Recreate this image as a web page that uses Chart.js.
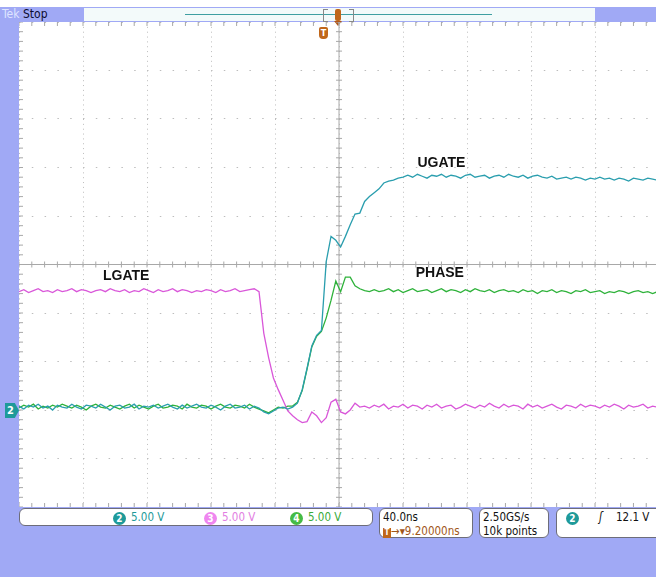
<!DOCTYPE html>
<html>
<head>
<meta charset="utf-8">
<script src="https://cdn.jsdelivr.net/npm/chart.js@4.4.1/dist/chart.umd.min.js"></script>
<style>
  body { margin: 0; width: 656px; height: 577px; background: #fff; overflow: hidden; position: relative; font-family: "DejaVu Sans Condensed", "DejaVu Sans", sans-serif; }
  .blue { position: absolute; background: #a0a9f5; }
  .abs { position: absolute; }
  .box { position: absolute; background: #fff; border: 1px solid #6d6d7a; border-radius: 6px; box-sizing: border-box; font-size: 11.5px; color: #111; }
  .chip { display: inline-block; width: 13px; height: 13px; border-radius: 7px; color: #fff; font-size: 10px; line-height: 13px; text-align: center; font-weight: bold; }
  #wrap { position: absolute; left: 19px; top: 22px; width: 637px; height: 485px; }
</style>
</head>
<body>
<div class="blue" style="left:0;top:7px;width:656px;height:15px;"></div>
<div class="blue" style="left:0;top:7px;width:19px;height:570px;"></div>
<div class="blue" style="left:0;top:507px;width:656px;height:70px;"></div>

<div class="abs" style="left:2px;top:7px;font-size:12px;color:#dfe4ff;">Tek</div>
<div class="abs" style="left:23px;top:7px;font-size:12px;color:#0c0c30;">Stop</div>
<div class="abs" style="left:84px;top:8px;width:511px;height:13px;background:#f3fafa;"></div>
<div class="abs" style="left:185px;top:14px;width:307px;height:1px;background:#3f9fa2;"></div>
<div class="abs" style="left:323px;top:9px;width:4px;height:11px;border:1px solid #888;border-right:none;"></div>
<div class="abs" style="left:349px;top:9px;width:4px;height:11px;border:1px solid #888;border-left:none;"></div>
<div class="abs" style="left:335px;top:9px;width:6px;height:12px;background:#c0661a;border-radius:2px;"></div>
<div class="abs" style="left:334px;top:21px;width:0;height:0;border-left:4px solid transparent;border-right:4px solid transparent;border-top:5px solid #b0561a;"></div>
<div class="abs" style="left:319px;top:27px;width:9px;height:12px;background:#c0661a;border-radius:2px 2px 4px 4px;color:#fff;font-size:9px;font-weight:bold;text-align:center;line-height:12px;">T</div>

<div class="abs" style="left:5px;top:403px;width:14px;height:15px;background:#1e9a9a;clip-path:polygon(0 0,70% 0,100% 50%,70% 100%,0 100%);color:#fff;font-size:11px;font-weight:bold;line-height:15px;padding-left:2px;box-sizing:border-box;">2</div>

<div id="wrap"><canvas id="scopeChart"></canvas></div>

<div class="box" style="left:19px;top:508px;width:354px;height:18px;">
  <span class="abs" style="left:93px;top:2px;"><span class="chip" style="background:#1e9a9a;">2</span></span>
  <span class="abs" style="left:111px;top:1px;color:#1e9a9a;">5.00 V</span>
  <span class="abs" style="left:184px;top:2px;"><span class="chip" style="background:#ef86ef;">3</span></span>
  <span class="abs" style="left:202px;top:1px;color:#e27ee2;">5.00 V</span>
  <span class="abs" style="left:270px;top:2px;"><span class="chip" style="background:#45bb45;">4</span></span>
  <span class="abs" style="left:288px;top:1px;color:#3aaa3a;">5.00 V</span>
</div>
<div class="box" style="left:379px;top:508px;width:94px;height:30px;">
  <span class="abs" style="left:3px;top:1px;">40.0ns</span>
  <span class="abs" style="left:3px;top:15px;color:#a0561a;"><span style="display:inline-block;width:8px;height:10px;background:#c0661a;color:#fff;font-size:8px;text-align:center;line-height:10px;font-weight:bold;">T</span>→▾9.20000ns</span>
</div>
<div class="box" style="left:479px;top:508px;width:70px;height:30px;">
  <span class="abs" style="left:3px;top:1px;">2.50GS/s</span>
  <span class="abs" style="left:3px;top:15px;">10k points</span>
</div>
<div class="box" style="left:556px;top:508px;width:110px;height:30px;">
  <span class="abs" style="left:9px;top:2px;"><span class="chip" style="background:#1e9a9a;">2</span></span>
  <span class="abs" style="left:42px;top:1px;font-style:italic;">ʃ</span>
  <span class="abs" style="left:59px;top:1px;">12.1 V</span>
</div>

<script>
// sample times (ns) and channel voltages (V); ch2 / ch3 / ch4 ground at -3 div
const timeNs = [
  -200,-197,-194,-191,-188,-185,-182,-179,-176,-173,-170,-167,-164,-161,-158,-155,-152,-149,-146,-143,
  -140,-137,-134,-131,-128,-125,-122,-119,-116,-113,-110,-107,-104,-101,-98,-95,-92,-89,-86,-83,
  -80,-77,-74,-71,-68,-65,-62,-59,-56,-53,-50,-47,-44,-41,-38,-35,-32,-29,-26,-23,
  -20,-17,-14,-11,-8,-5,-2,1,4,7,10,13,16,19,22,25,28,31,34,37,
  40,43,46,49,52,55,58,61,64,67,70,73,76,79,82,85,88,91,94,97,
  100,103,106,109,112,115,118,121,124,127,130,133,136,139,142,145,148,151,154,157,
  160,163,166,169,172,175,178,181,184,187,190,193,196,199
];

const ugateV = [
  0.4,0.1,0.5,0.3,0.6,0.2,0.4,0.0,0.5,0.3,
  0.2,0.6,0.3,0.1,0.5,0.4,0.2,0.6,0.3,0.0,
  0.4,0.5,0.2,0.3,0.6,0.1,0.4,0.3,0.5,0.2,
  0.4,0.6,0.3,0.1,0.5,0.2,0.4,0.6,0.3,0.2,
  0.5,0.3,0.0,0.4,0.6,0.2,0.3,0.5,0.1,0.4,
  0.2,-0.2,-0.4,-0.1,0.2,0.3,0.1,
  0.3,0.7,2.1,4.3,6.6,7.7,8.2,15.3,17.9,17.5,16.8,17.9,19.1,20.2,20.3,21.5,22.0,22.4,22.8,23.4,23.6,23.7,23.9,24.0,
  24.2,24.0,24.3,24.1,23.9,24.2,24.1,24.3,24.0,24.2,
  24.1,23.9,24.2,24.3,24.0,24.1,24.2,23.9,24.1,24.2,
  24.0,24.3,24.1,24.0,24.2,23.9,24.1,24.2,
  24.0,23.9,24.1,23.8,23.9,24.0,23.8,24.0,23.9,23.7,
  23.9,23.8,24.0,23.8,23.9,23.7,23.9,23.8,23.6,23.9,
  23.8,23.7,23.9,23.8,23.7
];

const lgateV = [
  12.2,12.4,12.1,12.3,12.5,12.2,12.3,12.1,12.4,12.2,
  12.3,12.5,12.2,12.4,12.3,12.1,12.3,12.4,12.2,12.5,
  12.3,12.2,12.4,12.1,12.3,12.2,12.5,12.3,12.1,12.4,
  12.2,12.3,12.5,12.2,12.4,12.3,12.1,12.3,12.2,12.4,
  12.3,12.1,12.4,12.2,12.3,12.5,12.2,12.3,12.4,12.5,
  12.2,7.9,5.4,3.3,2.1,1.0,-0.1,-0.6,-1.0,-1.3,-1.2,-0.2,-0.6,-1.3,-0.8,0.8,1.1,-0.2,-0.4,0.0,0.7,0.3,0.4,
  0.2,0.5,0.3,0.6,0.1,0.4,0.3,0.6,0.2,0.5,
  0.4,0.1,0.5,0.3,0.6,0.2,0.4,0.5,0.1,0.3,
  0.6,0.4,0.2,0.5,0.3,0.7,0.4,0.2,0.6,0.3,
  0.5,0.4,0.1,0.6,0.3,0.5,0.2,0.4,0.6,0.3,
  0.1,0.5,0.4,0.2,0.6,0.3,0.5,0.4,0.2,0.5,
  0.3,0.6,0.4,0.1,0.5,0.3,0.4,0.6,0.2,0.4,0.3
];

const phaseV = [
  0.2,0.5,0.3,0.6,0.1,0.4,0.2,0.5,0.3,0.6,
  0.4,0.2,0.5,0.3,0.0,0.4,0.6,0.3,0.2,0.5,
  0.3,0.1,0.4,0.6,0.2,0.5,0.3,0.1,0.4,0.6,
  0.2,0.3,0.5,0.4,0.1,0.6,0.3,0.2,0.5,0.4,
  0.1,0.4,0.6,0.3,0.2,0.5,0.4,0.2,0.6,0.3,
  0.1,-0.1,-0.3,0.0,0.3,0.2,0.4,
  0.4,0.8,2.0,4.2,6.5,7.6,8.1,9.5,11.3,13.3,12.2,13.7,13.7,12.8,12.5,12.3,12.2,
  12.4,12.2,12.3,12.5,12.2,12.4,12.1,12.3,12.5,12.2,
  12.3,12.4,12.1,12.3,12.5,12.2,12.4,12.3,12.1,12.4,
  12.2,12.5,12.3,12.2,12.4,12.1,12.3,12.4,12.2,12.3,
  12.1,12.4,12.2,12.3,12.0,12.3,12.2,12.4,12.1,12.3,
  12.2,12.0,12.3,12.2,12.4,12.1,12.2,12.3,12.0,12.2,
  12.1,12.3,12.2,12.0,12.2,12.3,12.1,12.2,12.0,12.2
];

// trace names placed on the screen (time ns, volts)
const traceLabels = [
  { text: 'UGATE', t: 64, v: 25.5 },
  { text: 'LGATE', t: -133, v: 13.8 },
  { text: 'PHASE', t: 63, v: 14.1 }
];

function toPoints(values) {
  return values.map((v, i) => ({ x: timeNs[i], y: v }));
}

const scopeDecor = {
  id: 'scopeDecor',
  beforeDatasetsDraw(chart) {
    const { ctx, chartArea: a, scales: { x, y } } = chart;
    const cx = x.getPixelForValue(0);
    const cy = y.getPixelForValue(15);
    ctx.save();
    ctx.strokeStyle = '#a8a8a8';
    ctx.lineWidth = 1;
    ctx.beginPath();
    ctx.moveTo(a.left, cy); ctx.lineTo(a.right, cy);
    ctx.moveTo(cx, a.top); ctx.lineTo(cx, a.bottom);
    for (let t = -200; t <= 200; t += 8) {
      const px = x.getPixelForValue(t);
      ctx.moveTo(px, cy - 3); ctx.lineTo(px, cy + 3);
      ctx.moveTo(px, a.top); ctx.lineTo(px, a.top + 4);
      ctx.moveTo(px, a.bottom); ctx.lineTo(px, a.bottom - 4);
    }
    for (let v = -10; v <= 40; v += 1) {
      const py = y.getPixelForValue(v);
      ctx.moveTo(cx - 3, py); ctx.lineTo(cx + 3, py);
      ctx.moveTo(a.left, py); ctx.lineTo(a.left + 4, py);
    }
    ctx.stroke();
    ctx.restore();
  },
  afterDatasetsDraw(chart) {
    const { ctx, scales: { x, y } } = chart;
    ctx.save();
    ctx.fillStyle = '#111';
    ctx.font = 'bold 14px "Liberation Sans", Arial, sans-serif';
    ctx.textAlign = 'center';
    ctx.textBaseline = 'middle';
    traceLabels.forEach(l => ctx.fillText(l.text, x.getPixelForValue(l.t), y.getPixelForValue(l.v)));
    ctx.restore();
  }
};

const scopeCtx = document.getElementById('scopeChart').getContext('2d');
new Chart(scopeCtx, {
  type: 'line',
  data: {
    datasets: [{
      label: 'UGATE',
      data: toPoints(ugateV),
      borderColor: '#2a9eae',
      borderWidth: 1.3,
      pointRadius: 0,
      tension: 0
    }, {
      label: 'LGATE',
      data: toPoints(lgateV),
      borderColor: '#d957d9',
      borderWidth: 1.3,
      pointRadius: 0,
      tension: 0
    }, {
      label: 'PHASE',
      data: toPoints(phaseV),
      borderColor: '#2eb23a',
      borderWidth: 1.3,
      pointRadius: 0,
      tension: 0
    }]
  },
  options: {
    responsive: true,
    maintainAspectRatio: false,
    animation: false,
    layout: { padding: 0 },
    plugins: {
      legend: { display: false },
      tooltip: { enabled: false }
    },
    scales: {
      x: {
        type: 'linear',
        min: -200,
        max: 198.1,
        ticks: { display: false, stepSize: 40, includeBounds: false },
        grid: { color: '#bdbdbd', drawTicks: false },
        border: { display: false, dash: [1, 3.85] }
      },
      y: {
        min: -10,
        max: 40,
        ticks: { display: false, stepSize: 5, includeBounds: false },
        grid: { color: '#bdbdbd', drawTicks: false },
        border: { display: false, dash: [1.5, 11.3] }
      }
    }
  },
  plugins: [scopeDecor]
});
</script>
</body>
</html>
